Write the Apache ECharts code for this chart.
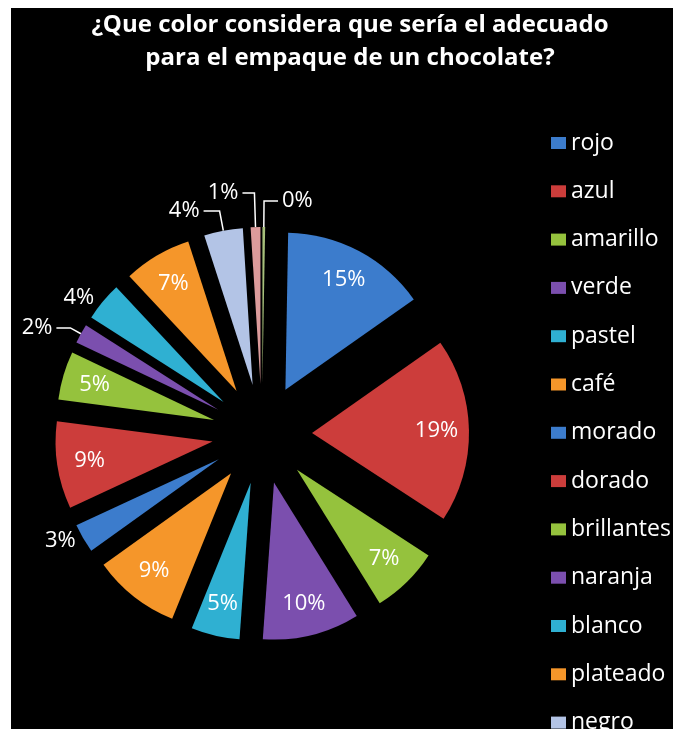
<!DOCTYPE html>
<html>
<head>
<meta charset="utf-8">
<title>Color de empaque</title>
<script src="https://cdn.jsdelivr.net/npm/echarts@6/dist/echarts.min.js"></script>
<style>
  html, body {
    margin: 0;
    padding: 0;
    background: #ffffff;
  }
  #chart {
    position: absolute;
    left: 11px;
    top: 8px;
    width: 662px;
    height: 721px;
  }
</style>
</head>
<body>
<div id="chart"></div>
<script>
// datos
const categorias = ['rojo', 'azul', 'amarillo', 'verde', 'pastel', 'café', 'morado', 'dorado',
  'brillantes', 'naranja', 'blanco', 'plateado', 'negro', 'rosado', 'verde claro'];
const porcentajes = [15, 19, 7, 10, 5, 9, 3, 9, 5, 2, 4, 7, 4, 1, 0];
const colores = ['#3c7ccc', '#cc3d3b', '#95c23d', '#7b4fae', '#2fb0d2', '#f5962a',
  '#3c7ccc', '#cc3d3b', '#95c23d', '#7b4fae', '#2fb0d2', '#f5962a',
  '#b3c4e6', '#dc9b9b', '#a6bf7a'];

const fuente = 'Open Sans';
const centro = [251, 426];
const radio = 157;
const separacion = 50;

// etiquetas fuera del sector para las rebanadas chicas
const lineasFuera = {
  'morado': { show: false, length: 4, length2: 0 },
  'naranja': { show: true, length: 12, length2: 14 },
  'blanco': { show: false, length: 6, length2: 0 },
  'negro': { show: true, length: 20, length2: 16 },
  'rosado': { show: true, length: 34, length2: 12 },
  'verde claro': { show: true, length: 26, length2: 14 }
};

const datosSectores = categorias.map((nombre, i) => ({
  name: nombre,
  value: porcentajes[i],
  selected: true,
  itemStyle: { color: colores[i] }
}));

const datosEtiquetas = categorias.map((nombre, i) => {
  const fuera = lineasFuera[nombre];
  return {
    name: nombre,
    value: porcentajes[i],
    selected: true,
    label: fuera
      ? { position: 'outside', distanceToLabelLine: 4 }
      : { position: 'inside' },
    labelLine: fuera
      ? { show: fuera.show, length: fuera.length, length2: fuera.length2 }
      : { show: false }
  };
});

const chart = echarts.init(document.getElementById('chart'));

const option = {
  backgroundColor: '#000000',
  animation: false,
  title: {
    text: '¿Que color considera que sería el adecuado\npara el empaque de un chocolate?',
    left: 339,
    top: 0,
    textAlign: 'center',
    padding: [1, 0, 0, 0],
    textStyle: {
      color: '#ffffff',
      fontFamily: fuente,
      fontWeight: 'bold',
      fontSize: 24,
      lineHeight: 33
    }
  },
  legend: {
    orient: 'vertical',
    left: 540,
    top: 123,
    height: 1200,
    padding: 0,
    icon: 'rect',
    itemWidth: 15,
    itemHeight: 12,
    itemGap: 24.3,
    selectedMode: false,
    data: categorias,
    textStyle: {
      color: '#ffffff',
      fontFamily: fuente,
      fontSize: 23,
      lineHeight: 24
    }
  },
  series: [
    {
      name: 'sectores',
      type: 'pie',
      center: centro,
      radius: [0, radio],
      startAngle: 89,
      clockwise: true,
      minAngle: 1,
      selectedMode: 'multiple',
      selectedOffset: separacion,
      avoidLabelOverlap: false,
      silent: true,
      label: { show: false },
      labelLine: { show: false },
      data: datosSectores
    },
    {
      name: 'etiquetas',
      type: 'pie',
      center: centro,
      radius: [86, radio],
      startAngle: 89,
      clockwise: true,
      minAngle: 1,
      selectedMode: 'multiple',
      selectedOffset: separacion,
      avoidLabelOverlap: false,
      labelLayout: { hideOverlap: false },
      silent: true,
      itemStyle: { color: 'rgba(0,0,0,0)' },
      label: {
        show: true,
        color: '#ffffff',
        fontFamily: fuente,
        fontSize: 22,
        formatter: (p) => p.value + '%'
      },
      labelLine: {
        lineStyle: { color: '#ffffff', width: 1.5 }
      },
      data: datosEtiquetas
    }
  ]
};

chart.setOption(option);
</script>
</body>
</html>
